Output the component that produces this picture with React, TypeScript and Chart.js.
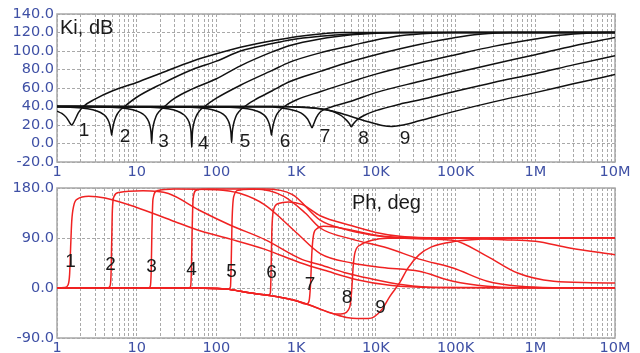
import React, { useEffect, useRef } from 'react';
import { Chart, registerables } from 'chart.js';
Chart.register(...registerables);

type P = [number, number];

// ---------- axis / label text ----------
const FREQ_LABELS = ['1', '10', '100', '1K', '10K', '100K', '1M', '10M'];
const KI_RANGE = [-20, 140, 20];
const PH_RANGE = [-90, 180, 90];
const KI_TITLE = 'Ki, dB';
const PH_TITLE = 'Ph, deg';
const CURVE_NAMES = ['1', '2', '3', '4', '5', '6', '7', '8', '9'];

// label anchors (frequency, value)
const KI_LABEL_AT: P[] = [[2.18, 13.5], [7.13, 7.6], [21.7, 2.2], [68.9, 0], [228, 2.2], [726, 2.2], [2306, 7.6], [7010, 5.4], [23200, 5.4]];
const PH_LABEL_AT: P[] = [[1.48, 47], [4.69, 41], [15.3, 38], [48.7, 33], [155, 30], [491, 27], [1494, 6], [4350, -17.5], [11450, -35.5]];

// ---------- Ki, dB curves ----------
const ki1: P[] = [[1, 35], [1.15, 32.5], [1.3, 28.5], [1.42, 23.5], [1.48, 21], [1.53, 20], [1.6, 22], [1.7, 26.5], [1.85, 33], [2.14, 40], [3, 48], [5, 57], [10, 66], [20, 76], [50, 89], [100, 97], [200, 104], [500, 111], [1000, 115.5], [2000, 118.5], [4000, 120], [1e7, 120]];
const ki2: P[] = [[1, 40], [1.46, 39.2], [2.43, 37.5], [3.15, 35.2], [3.78, 31.8], [4.27, 27], [4.61, 20], [4.75, 14], [4.85, 9], [4.95, 14], [5.09, 20], [5.48, 29], [6.06, 35], [7.03, 40], [10, 50], [20, 64], [50, 80], [100, 89], [200, 100], [500, 108], [835, 112], [2000, 116], [5000, 118.5], [20000, 120], [1e7, 120]];
const ki3: P[] = [[1, 40], [4.6, 39.2], [7.7, 37.5], [10, 35.2], [12, 31.8], [13.5, 27], [14.6, 20], [15.1, 12], [15.4, 0], [15.7, 12], [16.2, 20], [17.4, 29], [19.3, 35], [22.3, 40], [30, 49], [50, 59], [100, 70], [200, 84], [500, 99], [835, 106], [2000, 113], [5000, 117.5], [10000, 119.3], [30000, 120], [1e7, 120]];
const ki4: P[] = [[1, 40], [14.7, 39.2], [24.5, 37.5], [32, 35.2], [38, 31.8], [43, 27], [46.5, 20], [48, 12], [49, -4], [50, 12], [51.5, 20], [55.4, 29], [61, 35], [71, 40], [100, 49], [200, 63], [500, 79], [835, 88], [2000, 98], [5000, 106], [10000, 112], [20000, 116.5], [50000, 119.3], [100000, 120], [1e7, 120]];
const ki5: P[] = [[1, 40], [46.5, 39.2], [77.5, 37.5], [100, 35.2], [121, 31.8], [136, 27], [147, 20], [152, 12], [155, 1], [158, 12], [163, 20], [175, 29], [194, 35], [225, 40], [300, 47], [500, 57], [835, 67], [2000, 78], [5000, 89], [10000, 96], [35000, 107], [100000, 114.5], [200000, 118], [500000, 120], [1e7, 120]];
const ki6: P[] = [[1, 40], [147, 39.2], [245, 37.5], [318, 35.2], [382, 31.8], [431, 27], [465, 20], [480, 14], [490, 9], [500, 14], [515, 20], [554, 29], [612, 35], [710, 40], [1000, 47], [2000, 56], [5000, 67], [10000, 75], [35000, 87], [100000, 96], [300000, 105], [1e6, 113], [2e6, 117], [5e6, 119.5], [1e7, 120]];
const ki7: P[] = [[1, 40], [500, 39.5], [790, 37.3], [1027, 34.8], [1232, 31.3], [1390, 26.5], [1500, 21], [1580, 17], [1660, 21], [1790, 28], [1980, 33.5], [2300, 37], [3000, 40.5], [5000, 46], [10000, 55], [35000, 67], [100000, 76.5], [300000, 86], [1e6, 96], [3e6, 105.5], [1e7, 114.5]];
const ki8: P[] = [[1, 40], [500, 40], [1000, 39.5], [2000, 37.5], [3000, 34], [3700, 30], [4300, 25], [4700, 21], [4900, 18], [5200, 21], [5800, 25.5], [7000, 30], [10000, 35.5], [20000, 42.5], [35000, 47], [100000, 56.5], [300000, 66], [1e6, 75.5], [3e6, 85], [1e7, 95]];
const ki9: P[] = [[1, 40], [500, 40], [1000, 39.5], [2000, 37.5], [3000, 34.5], [5000, 29], [8000, 23.5], [12000, 19.5], [16000, 18.5], [22000, 20], [35000, 24.5], [100000, 35], [300000, 45], [1e6, 55], [3e6, 64.5], [1e7, 74.5]];

// ---------- Ph, deg curves ----------
const ph1: P[] = [[1, 0], [1.25, 1], [1.38, 6], [1.44, 25], [1.48, 70], [1.53, 120], [1.62, 148], [1.8, 160], [2.5, 165], [4, 162], [10, 145], [27, 122], [65, 102], [150, 88], [400, 70], [1100, 46], [2500, 30], [5800, 15], [15000, 5], [50000, 1], [1e7, 0]];
const ph2: P[] = [[1, 0], [4.3, 0], [4.6, 3], [4.75, 20], [4.85, 80], [4.95, 140], [5.2, 165], [6, 172], [12, 175], [25, 170], [61, 140], [150, 113], [407, 87], [1200, 51], [2000, 42], [4000, 28], [8500, 17], [22000, 6], [60000, 1], [1e7, 0]];
const ph3: P[] = [[1, 0], [14, 0], [14.8, 3], [15.2, 30], [15.5, 100], [16, 160], [18, 175], [30, 178], [100, 177], [200, 170], [400, 150], [1000, 100], [2000, 62], [5000, 45], [12000, 37], [35000, 30], [93000, 12], [250000, 3], [600000, 0.5], [1e7, 0]];
const ph4: P[] = [[1, 0], [45, 0], [47.5, 3], [48.5, 30], [49.5, 100], [51, 160], [56, 176], [80, 178], [300, 178], [700, 165], [1300, 135], [2000, 108], [5000, 88], [14000, 72], [35000, 52], [93000, 36], [250000, 12], [640000, 3], [2e6, 0.5], [1e7, 0]];
const ph5: P[] = [[1, 0], [50, 0], [100, -1], [140, -2], [150, 2], [153, 40], [157, 120], [165, 165], [190, 176], [400, 178], [900, 168], [2000, 122], [4000, 106], [8500, 96], [20000, 90], [50000, 88], [93000, 86], [250000, 57], [600000, 27], [1.7e6, 12], [5e6, 9.5], [1e7, 9]];
const ph6: P[] = [[1, 0], [50, 0], [100, -1], [155, -3], [200, -6], [300, -10], [450, -13], [475, -9], [485, 30], [495, 100], [520, 140], [600, 152], [800, 155], [1200, 150], [2000, 130], [5000, 112], [10000, 100], [20000, 93], [50000, 90], [160000, 89], [400000, 87], [1e6, 84], [2.7e6, 72], [1e7, 60]];
const ph7: P[] = [[1, 0], [50, 0], [100, -1], [155, -3], [200, -6], [300, -10], [490, -14], [700, -18], [1000, -23], [1350, -29], [1450, -24], [1520, 10], [1570, 60], [1650, 95], [1800, 106], [2200, 111], [3000, 110], [5000, 104], [10000, 95], [20000, 91], [50000, 90], [1e7, 90]];
const ph8: P[] = [[1, 0], [50, 0], [100, -1], [155, -3], [200, -6], [300, -10], [490, -14], [700, -18], [1000, -23], [1500, -31], [2000, -38], [3200, -47], [4000, -46], [4500, -40], [4800, -28], [5000, 0], [5200, 40], [5500, 65], [6500, 78], [9000, 86], [14000, 89.5], [50000, 90], [1e7, 90]];
const ph9: P[] = [[1, 0], [50, 0], [100, -1], [155, -3], [200, -6], [300, -10], [490, -14], [700, -18], [1000, -23], [1500, -31], [2000, -38], [3200, -48], [4300, -53], [5800, -55], [8000, -55], [9500, -52], [12000, -38], [15000, -15], [20000, 10], [25000, 35], [35000, 60], [50000, 74], [100000, 84], [200000, 88], [500000, 89.5], [1e7, 90]];

const KI_SERIES = [ki1, ki2, ki3, ki4, ki5, ki6, ki7, ki8, ki9];
const PH_SERIES = [ph1, ph2, ph3, ph4, ph5, ph6, ph7, ph8, ph9];

// ---------- styles ----------
const BLUE = '#3f50a5';
const GRID = '#a9a9a9';
const FRAME = '#a8a8a8';
const TICK_FONT = { family: 'DejaVu Sans', size: 14.5 };
const LABEL_FONT = '19px "Liberation Sans", Arial, sans-serif';
const TITLE_FONT = '20px "Liberation Sans", Arial, sans-serif';

const GRID_FREQS: number[] = (() => {
  const out: number[] = [];
  for (let e = 0; e < 7; e++) for (let m = 1; m < 10; m++) out.push(m * Math.pow(10, e));
  out.push(1e7);
  return out;
})();

function freqLabel(v: number): string {
  const e = Math.log10(v);
  const r = Math.round(e);
  return Math.abs(e - r) < 1e-6 ? FREQ_LABELS[r] : '';
}

function makeConfig(opts: {
  series: P[][];
  color: string;
  range: number[];
  padTop: number;
  xAxisH: number;
  title: string;
  titleDx: number;
  titleDy: number;
  labelsAt: P[];
}): any {
  const framePlugin = {
    id: 'frame',
    beforeDatasetsDraw(chart: any) {
      const { ctx, chartArea: a } = chart;
      ctx.save();
      ctx.strokeStyle = FRAME;
      ctx.lineWidth = 1.5;
      ctx.strokeRect(a.left, a.top, a.right - a.left, a.bottom - a.top);
      ctx.restore();
    },
    afterDatasetsDraw(chart: any) {
      const { ctx, chartArea: a, scales } = chart;
      ctx.save();
      ctx.fillStyle = '#1a1a1a';
      ctx.font = TITLE_FONT;
      ctx.textAlign = 'left';
      ctx.textBaseline = 'alphabetic';
      ctx.fillText(opts.title, a.left + opts.titleDx, a.top + opts.titleDy);
      ctx.font = LABEL_FONT;
      ctx.textAlign = 'center';
      ctx.textBaseline = 'middle';
      opts.labelsAt.forEach(([f, v], i) => {
        ctx.fillText(CURVE_NAMES[i], scales.x.getPixelForValue(f), scales.y.getPixelForValue(v));
      });
      ctx.restore();
    },
  };
  return {
    type: 'line',
    data: {
      datasets: opts.series.map((s, i) => ({
        label: CURVE_NAMES[i],
        data: s.map(([x, y]) => ({ x, y })),
        borderColor: opts.color,
        borderWidth: 1.5,
        pointRadius: 0,
        fill: false,
        cubicInterpolationMode: 'monotone',
      })),
    },
    options: {
      responsive: false,
      animation: false,
      events: [],
      layout: { padding: { left: 0, right: 25, top: opts.padTop, bottom: 0 } },
      plugins: { legend: { display: false }, tooltip: { enabled: false }, title: { display: false } },
      scales: {
        x: {
          type: 'logarithmic',
          min: 1,
          max: 1e7,
          afterBuildTicks: (s: any) => {
            s.ticks = GRID_FREQS.map((v) => ({ value: v }));
          },
          afterFit: (s: any) => {
            s.height = opts.xAxisH;
          },
          ticks: {
            autoSkip: false,
            maxRotation: 0,
            minRotation: 0,
            padding: 2,
            color: BLUE,
            font: TICK_FONT,
            callback: (v: number) => freqLabel(Number(v)),
          },
          grid: { color: GRID, lineWidth: 1, drawTicks: false },
          border: { display: false, dash: [3, 2] },
        },
        y: {
          type: 'linear',
          min: opts.range[0],
          max: opts.range[1],
          afterFit: (s: any) => {
            s.width = 57;
          },
          ticks: {
            stepSize: opts.range[2],
            autoSkip: false,
            padding: 3,
            color: BLUE,
            font: TICK_FONT,
            callback: (v: number) => Number(v).toFixed(1),
          },
          grid: { color: GRID, lineWidth: 1, drawTicks: false },
          border: { display: false, dash: [3, 2] },
        },
      },
    },
    plugins: [framePlugin],
  };
}

export default function App() {
  const topRef = useRef<HTMLCanvasElement>(null);
  const botRef = useRef<HTMLCanvasElement>(null);

  useEffect(() => {
    const top = new Chart(
      topRef.current as HTMLCanvasElement,
      makeConfig({
        series: KI_SERIES,
        color: '#111111',
        range: KI_RANGE,
        padTop: 14,
        xAxisH: 23,
        title: KI_TITLE,
        titleDx: 3,
        titleDy: 19.5,
        labelsAt: KI_LABEL_AT,
      })
    );
    const bot = new Chart(
      botRef.current as HTMLCanvasElement,
      makeConfig({
        series: PH_SERIES,
        color: '#f02222',
        range: PH_RANGE,
        padTop: 18,
        xAxisH: 15,
        title: PH_TITLE,
        titleDx: 295,
        titleDy: 21,
        labelsAt: PH_LABEL_AT,
      })
    );
    return () => {
      top.destroy();
      bot.destroy();
    };
  }, []);

  return (
    <div style={{ position: 'fixed', left: 0, top: 0, width: 640, height: 353, background: '#ffffff', overflow: 'hidden' }}>
      <canvas ref={topRef} width={640} height={185} style={{ position: 'absolute', left: 0, top: 0 }} />
      <canvas ref={botRef} width={640} height={183} style={{ position: 'absolute', left: 0, top: 170 }} />
    </div>
  );
}
